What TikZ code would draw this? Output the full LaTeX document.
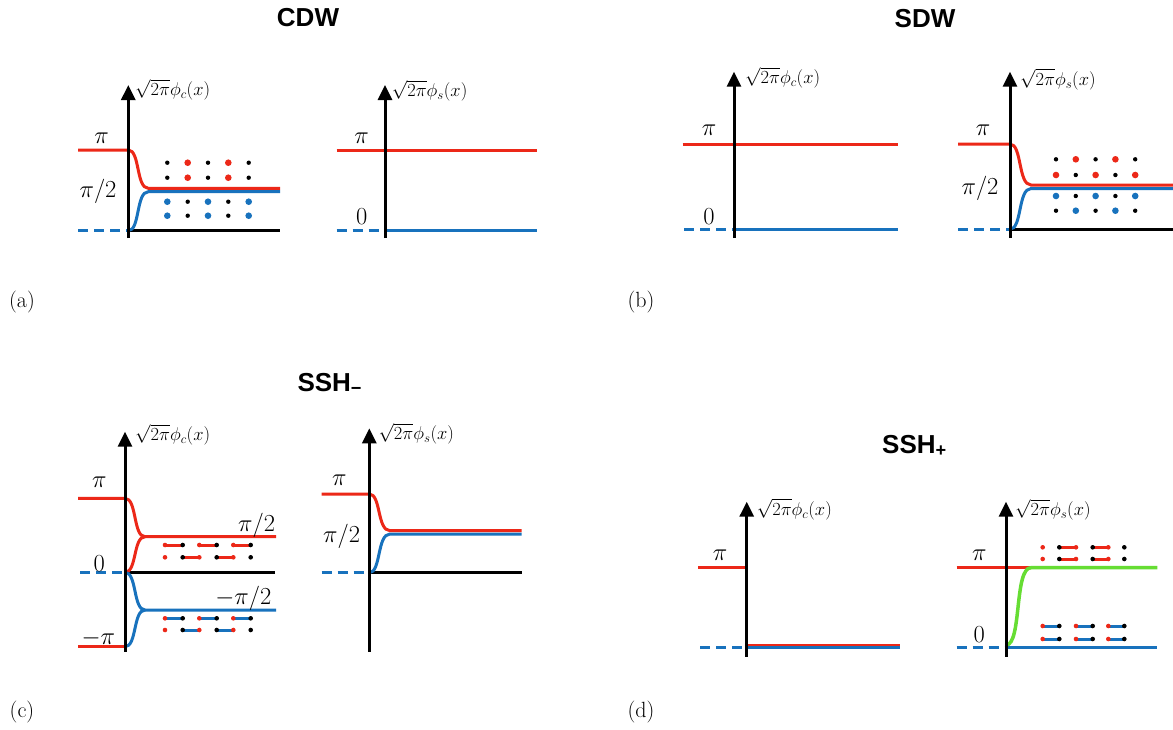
\RequirePackage{fix-cm}
\documentclass[tikz,border=0pt]{standalone}
\usepackage{fontspec}
\newfontfamily\titlefont{Liberation Sans}
\usetikzlibrary{arrows.meta}
\definecolor{cred}{RGB}{236,40,24}
\definecolor{cblue}{RGB}{24,114,189}
\definecolor{cgreen}{RGB}{102,221,51}
\tikzset{
  yaxis/.style={line width=3pt,-{Triangle[width=14pt,length=15pt]}},
  xaxis/.style={line width=3pt},
  rline/.style={cred,line width=3pt},
  bline/.style={cblue,line width=3pt},
  gline/.style={cgreen,line width=3.5pt},
  bdash/.style={cblue,line width=3pt,dash pattern=on 10pt off 6pt},
  rdot/.style={cred,fill=cred,draw=none},
  kdot/.style={black,fill=black,draw=none},
  udot/.style={cblue,fill=cblue,draw=none},
  tick/.style={inner sep=0pt,font=\fontsize{24.5}{28}\selectfont},
  axlab/.style={inner sep=0pt,anchor=west,font=\fontsize{18.5}{22}\selectfont},
  ttl/.style={inner sep=0pt,font=\titlefont\bfseries\fontsize{26}{30}\selectfont},
  sub/.style={inner sep=0pt,font=\fontsize{22}{26}\selectfont},
  rbond/.style={cred,line width=3pt},
  ubond/.style={cblue,line width=3pt}
}
\begin{document}
\begin{tikzpicture}[x=1pt,y=-1pt]
\useasboundingbox[fill=white] (0,0) rectangle (1173,729);

% ---------- titles and panel labels
\node[ttl,anchor=base] (tcdw) at (308,26) {CDW};
\node[ttl,anchor=base] (tsdw) at (925,27) {SDW};
\node[ttl,anchor=base west] (tsshm) at (297.3,391) {SSH\textsubscript{\char"2212}};
\node[ttl,anchor=base west] (tsshp) at (882,453) {SSH\textsubscript{+}};
\node[sub] (la) at (22,302) {(a)};
\node[sub] (lb) at (641,302) {(b)};
\node[sub] (lc) at (22,712) {(c)};
\node[sub] (ld) at (641,712) {(d)};

% ================= (a) left
\draw[xaxis] (128.3,230.7) -- (280,230.7);
\draw[bdash] (78,230.7) -- (128.3,230.7);
\draw[bline] (128.3,230.7) .. controls (140,230.7) and (136,191.7) .. (148.3,191.7) -- (280,191.7);
\draw[rline] (78,150) -- (128.3,150) .. controls (140,150) and (136,188.3) .. (148.3,188.3) -- (280,188.3);
\draw[yaxis] (128.3,238) -- (128.3,85);
\node[axlab] (a1lab) at (135,90) {$\sqrt{2\pi}\phi_c(x)$};
\node[tick] (a1pi) at (101.7,138) {$\pi$};
\node[tick] (a1pi2) at (98,191.7) {$\pi/2$};
\foreach \x/\c/\r in {167.3/k/2.2,187.7/r/3.3,208/k/2.2,228.3/r/3.3,248.7/k/2.2}{
  \fill[\c dot] (\x,162.7) circle (\r);
  \fill[\c dot] (\x,177.7) circle (\r);
}
\foreach \x/\c/\r in {167.3/u/3.3,187.7/k/2.2,208/u/3.3,228.3/k/2.2,248.7/u/3.3}{
  \fill[\c dot] (\x,201.7) circle (\r);
  \fill[\c dot] (\x,215.7) circle (\r);
}

% ================= (a) right
\draw[rline] (336.7,150) -- (537,150);
\draw[bdash] (336.7,230.7) -- (385,230.7);
\draw[bline] (385,230.7) -- (537,230.7);
\draw[yaxis] (385,238) -- (385,85);
\node[axlab] (a2lab) at (391.7,90.7) {$\sqrt{2\pi}\phi_s(x)$};
\node[tick] (a2pi) at (361.7,138) {$\pi$};
\node[tick] (a2zero) at (361.7,216.7) {$0$};

% ================= (b) left
\draw[rline] (682.7,144) -- (898,144);
\draw[bdash] (684,229.3) -- (734,229.3);
\draw[bline] (734,229.3) -- (898,229.3);
\draw[yaxis] (734,238) -- (734,71.7);
\node[axlab] (b1lab) at (745,78) {$\sqrt{2\pi}\phi_c(x)$};
\node[tick] (b1pi) at (709,130) {$\pi$};
\node[tick] (b1zero) at (709,216.7) {$0$};

% ================= (b) right
\draw[xaxis] (1010,229.3) -- (1173,229.3);
\draw[bdash] (958,229.3) -- (1010,229.3);
\draw[bline] (1010,229.3) .. controls (1022,229.3) and (1018,188.5) .. (1031,188.5) -- (1173,188.5);
\draw[rline] (958,144) -- (1010,144) .. controls (1022,144) and (1018,185) .. (1031,185) -- (1173,185);
\draw[yaxis] (1010,238) -- (1010,71.7);
\node[axlab] (b2lab) at (1020,79.3) {$\sqrt{2\pi}\phi_s(x)$};
\node[tick] (b2pi) at (983,130) {$\pi$};
\node[tick] (b2pi2) at (980,188.3) {$\pi/2$};
\foreach \x/\c/\r in {1056/k/2.2,1075.8/r/3.3,1095.6/k/2.2,1115.4/r/3.3,1135.2/k/2.2}{
  \fill[\c dot] (\x,159.3) circle (\r);}
\foreach \x/\c/\r in {1056/r/3.3,1075.8/k/2.2,1095.6/r/3.3,1115.4/k/2.2,1135.2/r/3.3}{
  \fill[\c dot] (\x,175) circle (\r);}
\foreach \x/\c/\r in {1056/u/3.3,1075.8/k/2.2,1095.6/u/3.3,1115.4/k/2.2,1135.2/u/3.3}{
  \fill[\c dot] (\x,196) circle (\r);}
\foreach \x/\c/\r in {1056/k/2.2,1075.8/u/3.3,1095.6/k/2.2,1115.4/u/3.3,1135.2/k/2.2}{
  \fill[\c dot] (\x,210.7) circle (\r);}

% ================= (c) left
\draw[xaxis] (125,572.3) -- (275,572.3);
\draw[bdash] (80,572.3) -- (125,572.3);
\draw[rline] (78,498.3) -- (125,498.3) .. controls (137,498.3) and (133,536.7) .. (145,536.7) -- (276,536.7);
\draw[rline] (125,572.3) .. controls (137,572.3) and (133,536.7) .. (145,536.7);
\draw[bline] (125,572.3) .. controls (137,572.3) and (133,610) .. (145,610) -- (276,610);
\draw[rline] (78,646.7) -- (125,646.7);
\draw[bline] (125,646.7) .. controls (137,646.7) and (133,610) .. (145,610);
\draw[yaxis] (125,651.7) -- (125,431.7);
\node[axlab] (c1lab) at (135,435) {$\sqrt{2\pi}\phi_c(x)$};
\node[tick] (c1pi) at (99.3,482.7) {$\pi$};
\node[tick] (c1pi2) at (256.7,525) {$\pi/2$};
\node[tick] (c1zero) at (99.3,563.3) {$0$};
\node[tick] (c1mpi2) at (243.3,598.3) {$-\pi/2$};
\node[tick] (c1mpi) at (98.3,638.3) {$-\pi$};
% dimers
\foreach \y/\s in {545/rbond,618.3/ubond}{
  \draw[\s] (165,\y) -- (182.7,\y);
  \draw[\s] (199.3,\y) -- (216.7,\y);
  \draw[\s] (233.3,\y) -- (250.7,\y);
}
\foreach \y/\s in {557.3/rbond,630/ubond}{
  \draw[\s] (182.7,\y) -- (199.3,\y);
  \draw[\s] (216.7,\y) -- (233.3,\y);
}
\foreach \y in {545,557.3,618.3,630}{
  \foreach \x/\c in {165/r,182.7/k,199.3/r,216.7/k,233.3/r,250.7/k}{
    \fill[\c dot] (\x,\y) circle (2.3);}
}

% ================= (c) right
\draw[xaxis] (369.3,572.7) -- (521.7,572.7);
\draw[bdash] (321.7,572.7) -- (369.3,572.7);
\draw[bline] (369.3,572.7) .. controls (381,572.7) and (377,534) .. (390,534) -- (521.7,534);
\draw[rline] (321.7,494) -- (369.3,494) .. controls (381,494) and (377,530.7) .. (390,530.7) -- (521.7,530.7);
\draw[yaxis] (369.3,651.7) -- (369.3,428.3);
\node[axlab] (c2lab) at (378.3,434) {$\sqrt{2\pi}\phi_s(x)$};
\node[tick] (c2pi) at (339.3,480) {$\pi$};
\node[tick] (c2pi2) at (341.7,536.7) {$\pi/2$};

% ================= (d) left
\draw[rline] (698.3,567.3) -- (746.7,567.3);
\draw[rline] (746.7,645.3) -- (900,645.3);
\draw[bdash] (700,647.5) -- (746.7,647.5);
\draw[bline] (746.7,647.5) -- (900,647.5);
\draw[yaxis] (746.7,656.7) -- (746.7,501.7);
\node[axlab] (d1lab) at (756.7,509.3) {$\sqrt{2\pi}\phi_c(x)$};
\node[tick] (d1pi) at (720,555) {$\pi$};

% ================= (d) right
\draw[rline] (956.7,567.7) -- (1030,567.7);
\draw[bdash] (956.7,647.5) -- (1006,647.5);
\draw[bline] (1006,647.5) -- (1157.3,647.5);
\draw[gline] (1006,645) .. controls (1022,645) and (1014,567.7) .. (1031,567.7) -- (1157.3,567.7);
\draw[yaxis] (1006,656.7) -- (1006,501.7);
\node[axlab] (d2lab) at (1015,510) {$\sqrt{2\pi}\phi_s(x)$};
\node[tick] (d2pi) at (979.3,555) {$\pi$};
\node[tick] (d2zero) at (979.3,635) {$0$};
\foreach \y in {547.3,559}{
  \draw[rbond] (1059.3,\y) -- (1076,\y);
  \draw[rbond] (1092.7,\y) -- (1108.3,\y);
}
\foreach \y in {626,639}{
  \draw[ubond] (1042.7,\y) -- (1059.3,\y);
  \draw[ubond] (1076,\y) -- (1092.7,\y);
  \draw[ubond] (1108.3,\y) -- (1124.3,\y);
}
\foreach \y in {547.3,559,626,639}{
  \foreach \x/\c in {1042.7/r,1059.3/k,1076/r,1092.7/k,1108.3/r,1124.3/k}{
    \fill[\c dot] (\x,\y) circle (2.3);}
}
\end{tikzpicture}
\end{document}
